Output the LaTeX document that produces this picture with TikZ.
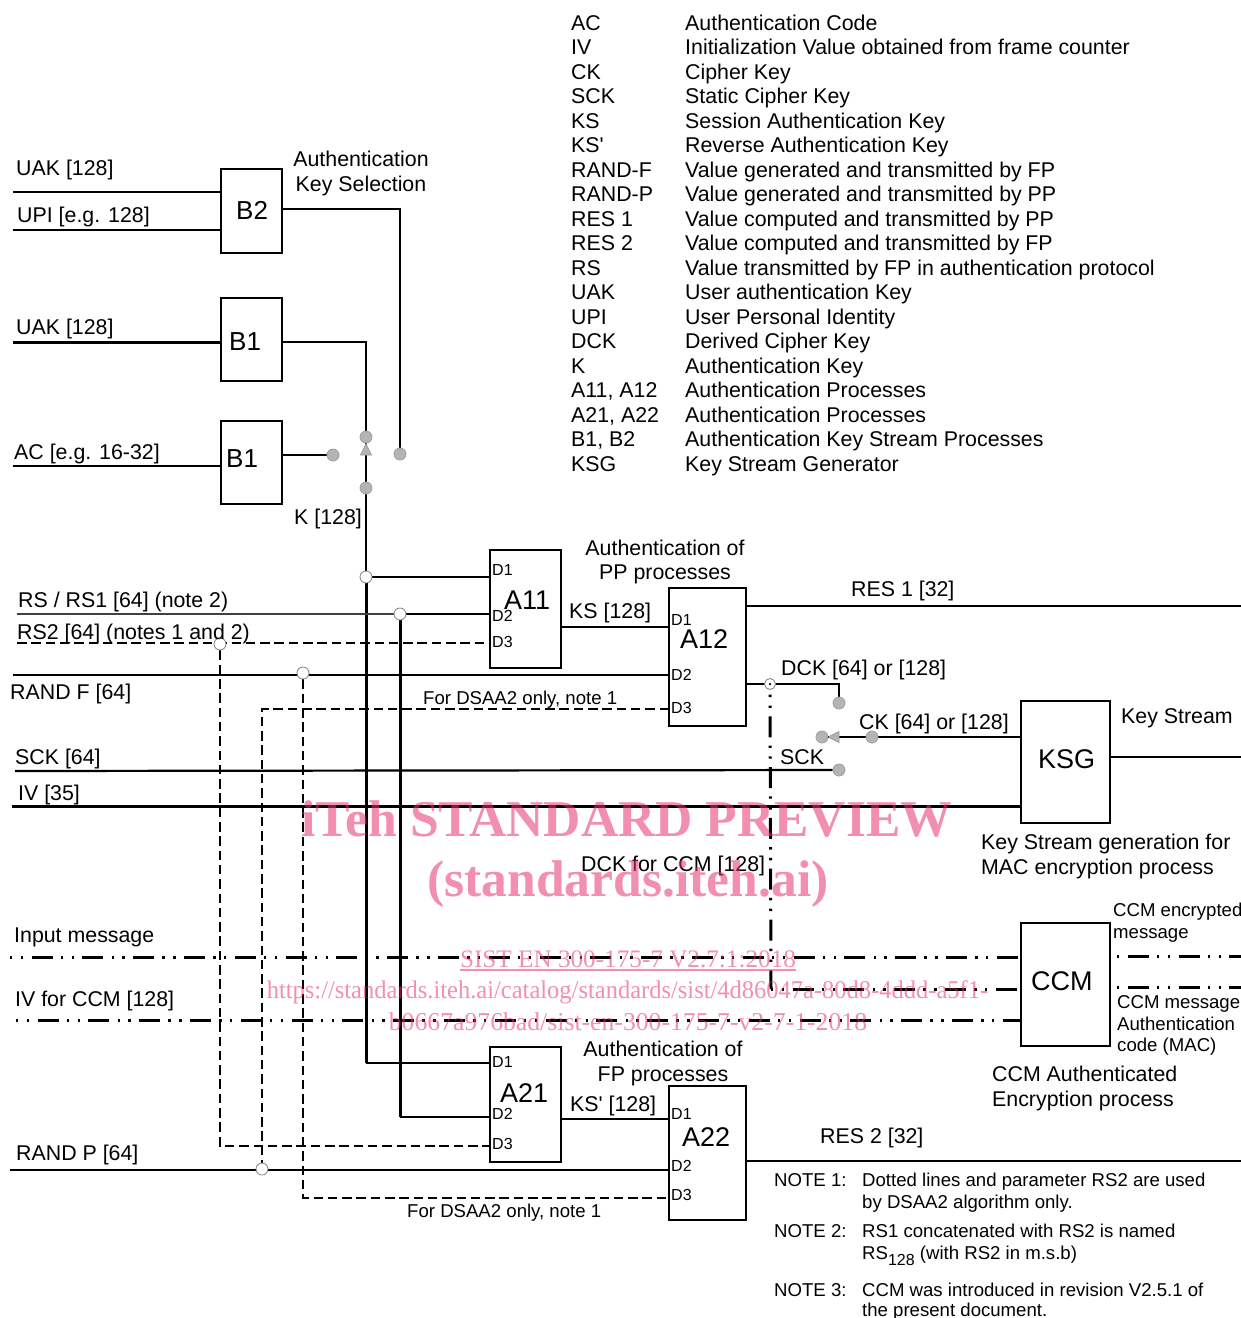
\documentclass[tikz,border=0pt]{standalone}
\usepackage{fontspec}
\setmainfont{Liberation Sans}[Ligatures=TeXOff]
\newfontfamily\wmfont{Liberation Serif}
\usetikzlibrary{backgrounds}
\definecolor{wm}{HTML}{E8336F}
\definecolor{dotgray}{HTML}{B4B4B4}
\definecolor{dotedge}{HTML}{9E9E9E}
\tikzset{
  lab/.style={anchor=base west,inner sep=0pt,font=\fontsize{21.35}{24}\selectfont},
  capt/.style={anchor=base,inner sep=0pt,font=\fontsize{21.35}{24}\selectfont},
  small/.style={anchor=base west,inner sep=0pt,font=\fontsize{18.6}{22}\selectfont},
  portlab/.style={anchor=base west,inner sep=0pt,font=\fontsize{16}{18}\selectfont},
  bname/.style={anchor=base west,inner sep=0pt,font=\fontsize{27}{30}\selectfont},
  blockbox/.style={draw,line width=1.6pt,anchor=north west,inner sep=0pt,outer sep=0pt},
  sig/.style={draw,line width=2.2pt},
  sigthick/.style={draw,line width=3pt},
  dashsig/.style={draw,line width=2.2pt,dash pattern=on 9.5pt off 4.8pt},
  ddsig/.style={draw,line width=3pt,dash pattern=on 2.4pt off 8.4pt on 2.4pt off 8.4pt on 21pt off 8.2pt},
  gdot/.style={circle,draw=dotedge,fill=dotgray,line width=.8pt,minimum size=12pt,inner sep=0pt},
  wdot/.style={circle,draw=gray,fill=white,line width=.8pt,minimum size=12pt,inner sep=0pt},
  watermark/.style={text=wm,text opacity=.55,inner sep=0pt,anchor=base,font=\wmfont},
}
\begin{document}
\begin{tikzpicture}[x=1pt,y=-1pt]
\useasboundingbox (0,0) rectangle (1241,1318);
% blocks
\node[blockbox,minimum width=61pt,minimum height=84pt] (B2) at (221,169) {};
\node[blockbox,minimum width=61pt,minimum height=83pt] (B1a) at (221,298) {};
\node[blockbox,minimum width=61pt,minimum height=83pt] (B1b) at (221,421) {};
\node[blockbox,minimum width=71pt,minimum height=118pt] (A11) at (490,550) {};
\node[blockbox,minimum width=77pt,minimum height=138pt] (A12) at (669,588) {};
\node[blockbox,minimum width=71pt,minimum height=115pt] (A21) at (490,1047) {};
\node[blockbox,minimum width=77pt,minimum height=134pt] (A22) at (669,1086) {};
\node[blockbox,minimum width=89pt,minimum height=122pt] (KSG) at (1021,701) {};
\node[blockbox,minimum width=89pt,minimum height=123pt] (CCM) at (1021,923) {};
% switch dots and junctions
\node[gdot] (swkup) at (366,437) {};
\node[gdot] (swkdn) at (366,488) {};
\node[gdot] (swac) at (333,455) {};
\node[gdot] (swks) at (400,454) {};
\node[gdot] (swdck) at (839,703) {};
\node[gdot] (swsck) at (839,770) {};
\node[gdot] (swckr) at (872,737) {};
\node[gdot] (swckl) at (822,737) {};
\node[wdot] (jk) at (366,577) {};
\node[wdot] (jrs) at (400,614) {};
\node[wdot] (jrs2) at (220,644) {};
\node[wdot] (jrandf) at (303,673) {};
\node[wdot] (jrandp) at (262,1169) {};
\node[circle,draw=gray,fill=white,line width=.8pt,minimum size=11pt,inner sep=0pt] (jdck) at (770,684) {};
\node[circle,fill=black,minimum size=2.5pt,inner sep=0pt] (jdckc) at (770,684) {};
% free ends and corners
\foreach \n/\x/\y in {uak/13/192,upi/13/230,uakb/13/342,ac/13/466,rs/17/614,rstwo/17/643,randf/13/675,sck/15/771,iv/12/806,randp/10/1170,inmsg/10/957,ivccm/16/1020,
  b2c/400/209,b1c/366/342,kc/366/1063,rsc/400/1117,rstwoc/220/1146,randfc/303/1198,dsc/262/709,dckc/839/684,ddc/771/989,res1/1241/606,res2/1241/1161,ksout/1241/757,ccmstart/1117/956,ccmout/1241/956,macstart/1117/987.5,macout/1241/987.5}
  \coordinate (\n) at (\x,\y);
\begin{scope}[on background layer]
\draw[sig] (uak) -- (uak -| B2.west);
\draw[sig] (upi) -- (upi -| B2.west);
\draw[sigthick] (uakb) -- (uakb -| B1a.west);
\draw[sig] (ac) -- (ac -| B1b.west);
\draw[sig] (B2.east |- b2c) -- (b2c) -- (swks);
\draw[sigthick,line width=2.6pt] (B1a.east |- b1c) -- (b1c) -- (swkup);
\draw[sig] (B1b.east |- swac) -- (swac);
\draw[sig] (swkdn) -- (swkup);
\draw[fill=dotgray,draw=dotedge,line width=.8pt] (366,444) -- (360.5,455) -- (371.5,455) -- cycle;
\draw[sig] (swkdn) -- (jk.center);
\draw[sigthick] (jk.center) -- (kc);
\draw[sig] (kc) -- (kc -| A21.west);
\draw[sig] (jk) -- (jk -| A11.west);
\draw[draw=black!75,line width=2.2pt] (rs) -- (jrs);
\draw[sig] (jrs) -- (jrs -| A11.west);
\draw[sigthick] (jrs.center) -- (rsc);
\draw[sig] (rsc) -- (rsc -| A21.west);
\draw[dashsig] (rstwo) -- (rstwo -| A11.west);
\draw[dashsig] (jrs2) -- (rstwoc) -- (rstwoc -| A21.west);
\draw[sig] (randf) -- (randf -| A12.west);
\draw[dashsig] (jrandf) -- (randfc) -- (randfc -| A22.west);
\draw[dashsig] (dsc -| A12.west) -- (dsc) -- (jrandp);
\draw[sig] (randp) -- (randp -| A22.west);
\draw[sig] (A11.east |- 0,627) -- (A12.west |- 0,627);
\draw[sig] (A21.east |- 0,1119) -- (A22.west |- 0,1119);
\draw[sig] (A12.east |- res1) -- (res1);
\draw[sig] (A22.east |- res2) -- (res2);
\draw[sig] (A12.east |- dckc) -- (dckc) -- (swdck);
\draw[sig] (sck) -- (swsck);
\draw[sigthick] (iv) -- (iv -| KSG.west);
\draw[sig] (KSG.west |- swckr) -- (834,737);
\draw[fill=dotgray,draw=dotedge,line width=.8pt] (828,737) -- (839,731.5) -- (839,742.5) -- cycle;
\draw[sig] (swckl) -- (828,737);
\draw[sig] (KSG.east |- ksout) -- (ksout);
\draw[ddsig] (inmsg) -- (inmsg -| CCM.west);
\draw[ddsig] (ivccm) -- (ivccm -| CCM.west);
\draw[ddsig,dash phase=46pt] (jdck) -- (ddc);
\draw[ddsig] (ddc) -- (ddc -| CCM.west);
\draw[ddsig,dash phase=10.8pt] (ccmstart) -- (ccmout);
\draw[ddsig,dash phase=10.8pt] (macstart) -- (macout);
\end{scope}
% legend
\foreach \a/\b [count=\i from 0] in {AC/Authentication Code,IV/Initialization Value obtained from frame counter,CK/Cipher Key,SCK/Static Cipher Key,KS/Session Authentication Key,KS'/Reverse Authentication Key,RAND-F/Value generated and transmitted by FP,RAND-P/Value generated and transmitted by PP,RES 1/Value computed and transmitted by PP,RES 2/Value computed and transmitted by FP,RS/Value transmitted by FP in authentication protocol,UAK/User authentication Key,UPI/User Personal Identity,DCK/Derived Cipher Key,K/Authentication Key,{A11, A12}/Authentication Processes,{A21, A22}/Authentication Processes,{B1, B2}/Authentication Key Stream Processes,KSG/Key Stream Generator}{
  \node[lab] (lega\i) at (571,30+24.5*\i) {\a};
  \node[lab] (legb\i) at (685,30+24.5*\i) {\b};
}
% block names
\node[bname,font=\fontsize{26}{30}\selectfont] (tB2) at (236,219) {B2};
\node[bname,font=\fontsize{26}{30}\selectfont] (tB1a) at (229,350) {B1};
\node[bname,font=\fontsize{26}{30}\selectfont] (tB1b) at (226,467) {B1};
\node[bname] (tA11) at (504,609) {A11};
\node[bname] (tA12) at (680,648) {A12};
\node[bname] (tA21) at (500,1102) {A21};
\node[bname] (tA22) at (682,1146) {A22};
\node[bname] (tKSG) at (1038,768) {KSG};
\node[bname] (tCCM) at (1031,990) {CCM};
% ports
\node[portlab] (p1) at (492,575) {D1};
\node[portlab] (p2) at (492,621) {D2};
\node[portlab] (p3) at (492,647) {D3};
\node[portlab] (p4) at (671,625) {D1};
\node[portlab] (p5) at (671,680) {D2};
\node[portlab] (p6) at (671,713) {D3};
\node[portlab] (p7) at (492,1067) {D1};
\node[portlab] (p8) at (492,1119) {D2};
\node[portlab] (p9) at (492,1149) {D3};
\node[portlab] (p10) at (671,1119) {D1};
\node[portlab] (p11) at (671,1171) {D2};
\node[portlab] (p12) at (671,1200) {D3};
% labels
\node[lab] (l1) at (16,175) {UAK [128]};
\node[lab] (l2) at (17,222) {UPI [e.g. 128]};
\node[capt] (l3) at (361,166) {Authentication};
\node[capt] (l4) at (361,191) {Key Selection};
\node[lab] (l5) at (16,334) {UAK [128]};
\node[lab] (l6) at (14,459) {AC [e.g. 16-32]};
\node[lab] (l7) at (294,524) {K [128]};
\node[capt] (l8) at (665,555) {Authentication of};
\node[capt] (l9) at (665,579) {PP processes};
\node[lab] (l10) at (851,596) {RES 1 [32]};
\node[lab] (l11) at (569,618) {KS [128]};
\node[lab] (l12) at (18,607) {RS / RS1 [64] (note 2)};
\node[lab] (l13) at (17,639) {RS2 [64] (notes 1 and 2)};
\node[lab] (l14) at (10,699) {RAND F [64]};
\node[lab] (l15) at (781,675) {DCK [64] or [128]};
\node[lab] (l16) at (859,729) {CK [64] or [128]};
\node[lab] (l17) at (1121,723) {Key Stream};
\node[lab] (l18) at (780,764) {SCK};
\node[lab] (l19) at (15,764) {SCK [64]};
\node[lab] (l20) at (18,800) {IV [35]};
\node[lab] (l21) at (981,849) {Key Stream generation for};
\node[lab] (l22) at (981,874) {MAC encryption process};
\node[lab] (l23) at (581,871) {DCK for CCM [128]};
\node[lab] (l24) at (14,942) {Input message};
\node[lab] (l25) at (15,1006) {IV for CCM [128]};
\node[small] (l26) at (1113,916) {CCM encrypted};
\node[small] (l27) at (1113,938) {message};
\node[small] (l28) at (1117,1008) {CCM message};
\node[small] (l29) at (1117,1030) {Authentication};
\node[small] (l30) at (1117,1051) {code (MAC)};
\node[lab] (l31) at (992,1081) {CCM Authenticated};
\node[lab] (l32) at (992,1106) {Encryption process};
\node[capt] (l33) at (663,1056) {Authentication of};
\node[capt] (l34) at (663,1081) {FP processes};
\node[lab] (l35) at (570,1111) {KS' [128]};
\node[lab] (l36) at (820,1143) {RES 2 [32]};
\node[lab] (l37) at (16,1160) {RAND P [64]};
\node[small] (l38) at (423,704) {For DSAA2 only, note 1};
\node[small] (l39) at (407,1217) {For DSAA2 only, note 1};
% notes
\node[small] (n1) at (774,1186) {NOTE 1:};
\node[small] (n1a) at (862,1186) {Dotted lines and parameter RS2 are used};
\node[small] (n1b) at (862,1208) {by DSAA2 algorithm only.};
\node[small] (n2) at (774,1237) {NOTE 2:};
\node[small] (n2a) at (862,1237) {RS1 concatenated with RS2 is named};
\node[small] (n2b) at (862,1259) {RS\raisebox{-6pt}{\fontsize{16}{18}\selectfont 128} (with RS2 in m.s.b)};
\node[small] (n3) at (774,1296) {NOTE 3:};
\node[small] (n3a) at (862,1296) {CCM was introduced in revision V2.5.1 of};
\node[small] (n3b) at (862,1316) {the present document.};
% watermark
\node[watermark,font=\wmfont\bfseries\fontsize{51.6}{56}\selectfont] (w1) at (627,836) {iTeh STANDARD PREVIEW};
\node[watermark,font=\wmfont\bfseries\fontsize{51.6}{56}\selectfont] (w2) at (628,896) {(standards.iteh.ai)};
\node[watermark,font=\wmfont\fontsize{25.2}{28}\selectfont] (w3) at (628,967) {SIST EN 300-175-7 V2.7:1:2018};
\node[watermark,font=\wmfont\fontsize{25.5}{28}\selectfont] (w4) at (627.5,998) {\scalebox{.961}[1]{https://standards.iteh.ai/catalog/standards/sist/4d86047a-80d8-4ddd-a5f1-}};
\node[watermark,font=\wmfont\fontsize{25.7}{28}\selectfont] (w5) at (628,1030) {b0667a976bad/sist-en-300-175-7-v2-7-1-2018};
\draw[wm,opacity=.55,line width=1.2pt] ([yshift=-3pt]w3.base west) -- ([yshift=-3pt]w3.base east);
\end{tikzpicture}
\end{document}
